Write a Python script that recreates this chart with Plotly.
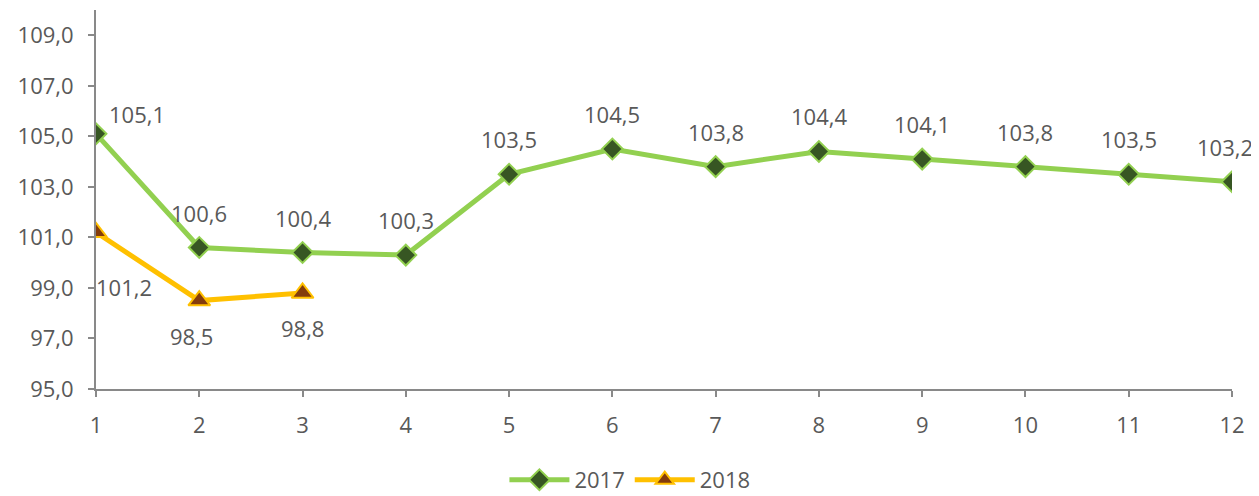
import plotly.graph_objects as go

months = list(range(1, 13))
values_2017 = [105.1, 100.6, 100.4, 100.3, 103.5, 104.5, 103.8, 104.4, 104.1, 103.8, 103.5, 103.2]
months_2018 = [1, 2, 3]
values_2018 = [101.2, 98.5, 98.8]
y_ticks = [95, 97, 99, 101, 103, 105, 107, 109]

FONT = "Open Sans"
TXT = "#595959"
FS = 22

# label offsets (pixels) – styling only
off_2017 = [(41, 20)] + [(0, 35)] * 10 + [(-7, 35)]
off_2018 = [(28, -55), (-8, -35), (0, -35)]

fig = go.Figure()
fig.add_trace(go.Scatter(
    x=months, y=values_2017, name="2017", mode="lines+markers",
    line=dict(color="#92D050", width=5),
    marker=dict(symbol="diamond", size=16, color="#375623",
                line=dict(color="#92D050", width=2)),
))
fig.add_trace(go.Scatter(
    x=months_2018, y=values_2018, name="2018", mode="lines+markers",
    line=dict(color="#FFC000", width=5),
    marker=dict(symbol="triangle-up", size=19, color="#843C0C",
                line=dict(color="#FFC000", width=2)),
))

def fmt(v):
    return f"{v:.1f}".replace(".", ",")

anns = []
for x, y, (dx, dy) in zip(months, values_2017, off_2017):
    anns.append(dict(x=x, y=y, text=fmt(y), showarrow=False, xshift=dx, yshift=dy,
                     font=dict(family=FONT, size=FS, color=TXT)))
for x, y, (dx, dy) in zip(months_2018, values_2018, off_2018):
    anns.append(dict(x=x, y=y, text=fmt(y), showarrow=False, xshift=dx, yshift=dy,
                     font=dict(family=FONT, size=FS, color=TXT)))

fig.update_layout(
    width=1251, height=488,
    margin=dict(l=88, r=27, t=2, b=107, autoexpand=False),
    paper_bgcolor="white", plot_bgcolor="white",
    separators=", ",
    font=dict(family=FONT, size=FS, color=TXT),
    showlegend=True,
    legend=dict(orientation="h", x=0.47, xanchor="center", y=-0.24, yanchor="middle",
                itemwidth=60, font=dict(family=FONT, size=FS, color=TXT)),
    annotations=anns,
    xaxis=dict(range=[1, 12], tickmode="array", tickvals=months, ticktext=[str(m) for m in months],
               showgrid=False, zeroline=False, showline=True, linecolor="#898989", linewidth=2,
               ticks="outside", ticklen=6, tickcolor="#898989", tickwidth=2,
               ticklabelstandoff=10, tickfont=dict(family=FONT, size=FS, color=TXT)),
    yaxis=dict(range=[95, 110], tickmode="array", tickvals=y_ticks, tickformat=".1f",
               showgrid=False, zeroline=False, showline=True, linecolor="#898989", linewidth=2,
               ticks="outside", ticklen=6, tickcolor="#898989", tickwidth=2,
               ticklabelstandoff=10, tickfont=dict(family=FONT, size=FS, color=TXT)),
)

fig.write_html("out.html")
